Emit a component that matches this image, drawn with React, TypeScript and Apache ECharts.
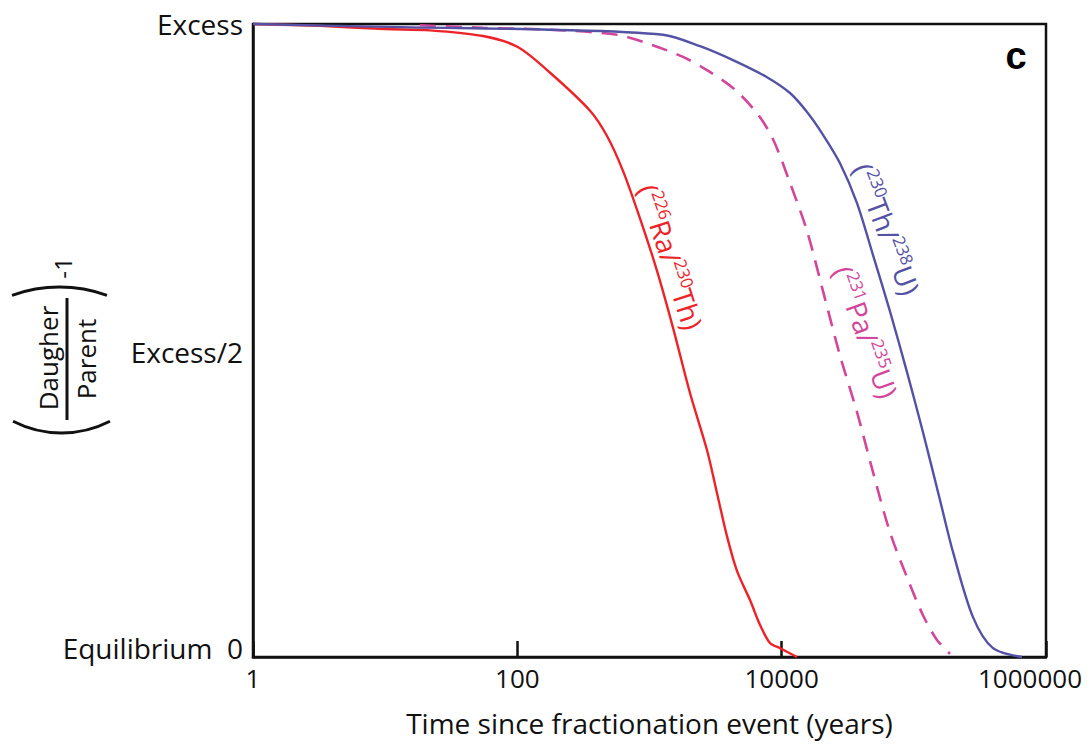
import React, { useEffect, useRef } from "react";
import * as echarts from "echarts";

// Time since fractionation (years) and normalised excess (1 = Excess, 0 = Equilibrium)
const timeRa = [1, 3.2, 10, 21.8, 55, 100, 177, 355, 477, 630, 847, 1140, 1507, 2025, 2722, 3240, 3856, 4590, 5760, 6850, 8160, 9710, 13060];
const excessRa = [1.0, 0.997, 0.992, 0.99, 0.981, 0.964, 0.923, 0.863, 0.823, 0.768, 0.693, 0.61, 0.52, 0.417, 0.327, 0.259, 0.191, 0.136, 0.09, 0.051, 0.022, 0.014, 0];

const timePa = [18.3, 55, 177, 568, 1009, 1792, 2722, 4280, 6510, 8600, 11560, 15550, 20550, 27640, 37150, 49100, 66000, 88800, 117300, 149600, 187800];
const excessPa = [0.998, 0.994, 0.991, 0.983, 0.968, 0.948, 0.927, 0.899, 0.859, 0.818, 0.749, 0.673, 0.578, 0.476, 0.387, 0.292, 0.197, 0.126, 0.066, 0.027, 0.005];

const timeTh = [1, 12.9, 177, 1265, 2410, 4280, 7740, 11560, 15550, 20550, 27640, 37150, 49100, 66000, 88800, 117300, 157700, 197800, 280300, 397000, 658000];
const excessTh = [1, 0.995, 0.991, 0.983, 0.965, 0.943, 0.916, 0.891, 0.861, 0.825, 0.78, 0.717, 0.635, 0.546, 0.45, 0.355, 0.248, 0.166, 0.063, 0.014, 0];

const xMin = 1;
const xMax = 1000000;
const yTickValues = [0, 0.5, 1];
const yTickLabels = ["Equilibrium  0", "Excess/2", "Excess"];
const xAxisTitle = "Time since fractionation event (years)";

const RED = "#ee2329";
const PINK = "#d4469c";
const PURPLE = "#5552a6";
const FONT = "Open Sans";

const zip = (xs: number[], ys: number[]) => xs.map((x, i) => [x, ys[i]]);

export default function App() {
  const ref = useRef<HTMLDivElement>(null);
  useEffect(() => {
    if (!ref.current) return;
    const chart = echarts.init(ref.current, null, { renderer: "svg" });
    const lineSeries = (name: string, data: number[][], color: string, dashed: boolean) => ({
      name,
      type: "line",
      data,
      showSymbol: false,
      smooth: 0.3,
      clip: false,
      lineStyle: { color, width: dashed ? 2.6 : 2.4, type: dashed ? [16, 10] : "solid" },
    });
    const sup = (color: string) => ({
      n: { fontSize: 28, lineHeight: 32, fill: color, fontFamily: FONT, verticalAlign: "middle" },
      s: { fontSize: 17, lineHeight: 19, fill: color, fontFamily: FONT, verticalAlign: "top" },
    });
    const yRich = (pad: number[]) => ({ fontSize: 28, fontFamily: FONT, color: "#111", padding: pad });
    const xRich = (pad: number[]) => ({ fontSize: 26, fontFamily: FONT, color: "#111", padding: pad });
    chart.setOption({
      animation: false,
      backgroundColor: "#ffffff",
      grid: {
        left: 253,
        top: 24,
        right: 45,
        bottom: 90,
        show: true,
        borderColor: "#111",
        borderWidth: 2.5,
        outerBoundsMode: "none",
        containLabel: false,
      },
      xAxis: {
        type: "log",
        logBase: 10,
        min: xMin,
        max: xMax,
        interval: 2,
        name: xAxisTitle,
        nameLocation: "middle",
        nameGap: 52,
        nameTextStyle: { fontSize: 28, color: "#111", fontFamily: FONT },
        axisLine: { lineStyle: { color: "#111", width: 2.5 } },
        axisTick: { show: true, inside: true, length: 16, lineStyle: { color: "#111", width: 2.5 } },
        minorTick: { show: false },
        splitLine: { show: false },
        axisLabel: {
          fontSize: 26,
          color: "#111",
          fontFamily: FONT,
          margin: 8,
          formatter: (v: number) => {
            const s = String(Math.round(v));
            return Math.round(v) >= xMax ? `{last|${s}}` : `{t|${s}}`;
          },
          rich: { t: xRich([0, 0, 0, 0]), last: xRich([0, 32, 0, 0]) },
        },
      },
      yAxis: {
        type: "value",
        min: 0,
        max: 1,
        interval: 0.5,
        axisLine: { show: true, lineStyle: { color: "#111", width: 2.5 } },
        axisTick: { show: false },
        splitLine: { show: false },
        axisLabel: {
          fontSize: 28,
          color: "#111",
          fontFamily: FONT,
          margin: 10,
          formatter: (v: number) => {
            const i = yTickValues.findIndex((t) => Math.abs(t - v) < 1e-6);
            const label = i >= 0 ? yTickLabels[i] : "";
            if (i === 0) return `{lo|${label}}`;
            if (i === 1) return `{mid|${label}}`;
            return `{hi|${label}}`;
          },
          rich: {
            lo: yRich([0, 0, 18, 0]),
            mid: yRich([22, 0, 0, 0]),
            hi: yRich([0, 0, 0, 0]),
          },
        },
      },
      series: [
        lineSeries("226Ra/230Th", zip(timeRa, excessRa), RED, false),
        lineSeries("231Pa/235U", zip(timePa, excessPa), PINK, true),
        lineSeries("230Th/238U", zip(timeTh, excessTh), PURPLE, false),
      ],
      graphic: [
        {
          type: "text",
          x: 671,
          y: 257,
          rotation: (-72 * Math.PI) / 180,
          style: { text: "{n|(}{s|226}{n|Ra/}{s|230}{n|Th)}", rich: sup(RED), align: "center", verticalAlign: "middle" },
        },
        {
          type: "text",
          x: 887,
          y: 229,
          rotation: (-69 * Math.PI) / 180,
          style: { text: "{n|(}{s|230}{n|Th/}{s|238}{n|U)}", rich: sup(PURPLE), align: "center", verticalAlign: "middle" },
        },
        {
          type: "text",
          x: 866,
          y: 332,
          rotation: (-70 * Math.PI) / 180,
          style: { text: "{n|(}{s|231}{n|Pa/}{s|235}{n|U)}", rich: sup(PINK), align: "center", verticalAlign: "middle" },
        },
        {
          type: "text",
          x: 1016,
          y: 56,
          style: { text: "c", fontSize: 38, fontWeight: "bold", fontFamily: "Liberation Sans", fill: "#000", align: "center", verticalAlign: "middle" },
        },
        {
          type: "group",
          x: 67,
          y: 359,
          rotation: Math.PI / 2,
          children: [
            { type: "line", shape: { x1: -61, y1: 0, x2: 61, y2: 0 }, style: { stroke: "#111", lineWidth: 3 } },
            { type: "text", x: 1, y: -19, style: { text: "Daugher", fontSize: 26, fontFamily: FONT, fill: "#111", align: "center", verticalAlign: "middle" } },
            { type: "text", x: 0, y: 19, style: { text: "Parent", fontSize: 26, fontFamily: FONT, fill: "#111", align: "center", verticalAlign: "middle" } },
            { type: "text", x: 91, y: -5, style: { text: "-1", fontSize: 24, fontFamily: FONT, fill: "#111", align: "center", verticalAlign: "middle" } },
          ],
        },
        {
          type: "arc",
          shape: { cx: 59.5, cy: 427, r: 140, startAngle: -Math.PI / 2 - 0.346, endAngle: -Math.PI / 2 + 0.346 },
          style: { stroke: "#111", lineWidth: 3, fill: "none" },
        },
        {
          type: "arc",
          shape: { cx: 61.5, cy: 327, r: 106, startAngle: Math.PI / 2 - 0.475, endAngle: Math.PI / 2 + 0.475 },
          style: { stroke: "#111", lineWidth: 3, fill: "none" },
        },
      ],
    });
    return () => chart.dispose();
  }, []);
  return <div ref={ref} style={{ position: "fixed", left: 0, top: 0, width: 1091, height: 747 }} />;
}
